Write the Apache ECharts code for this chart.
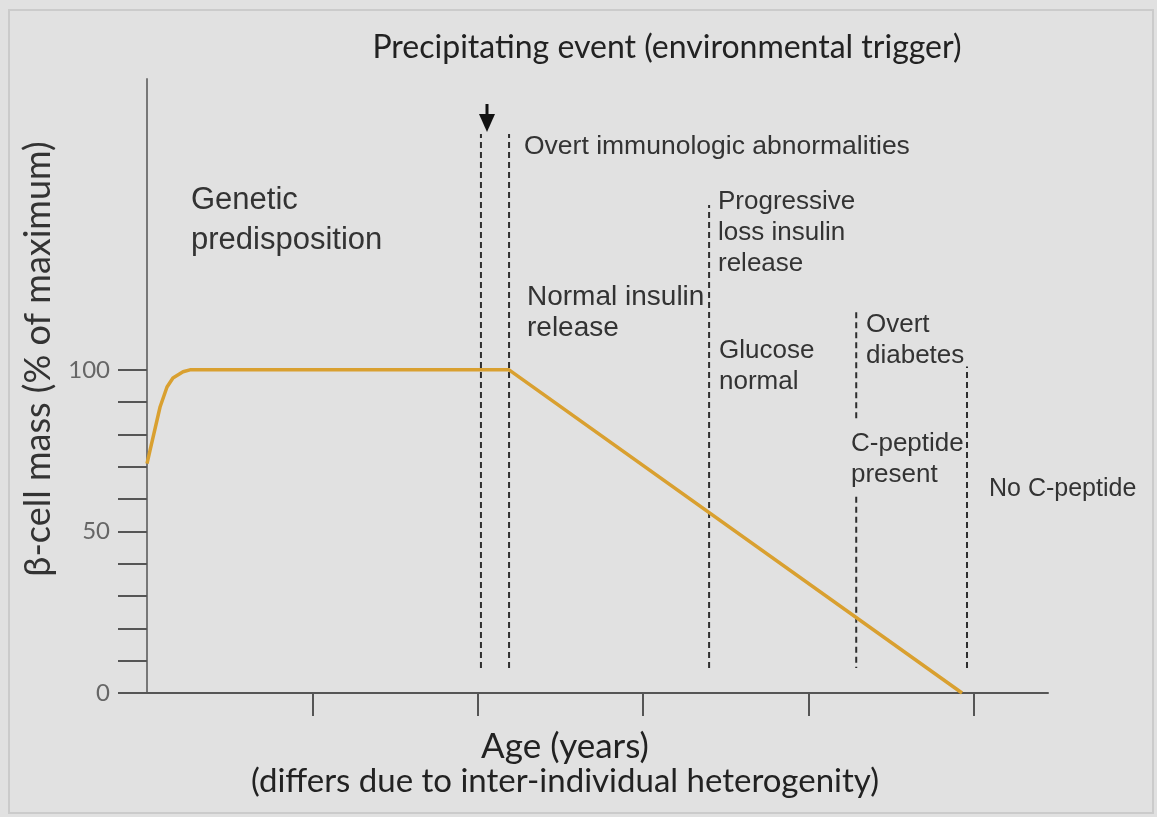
<!DOCTYPE html>
<html>
<head>
<meta charset="utf-8">
<script src="https://cdn.jsdelivr.net/npm/echarts@6/dist/echarts.min.js"></script>
<style>
  html, body { margin: 0; padding: 0; background: #e1e1e1; }
  #chart { width: 1157px; height: 817px; }
</style>
</head>
<body>
<div id="chart"></div>
<script>
// beta-cell mass curve (x = age in tick units, y = % of maximum)
const curveX = [0, 0.018, 0.079, 0.121, 0.157, 0.218, 0.26, 2.19, 4.93];
const curveY = [71, 75, 88.5, 94.7, 97.5, 99.4, 100, 100, 0];

// dashed stage boundaries: [x, yFrom, yTo]
const stageLines = [
  [2.02, 7.7, 173],
  [2.19, 7.7, 173],
  [3.40, 7.7, 151],
  [4.29, 60.7, 7.7],
  [4.29, 85, 118],
  [4.96, 7.7, 101]
];

const yTicks = [0, 10, 20, 30, 40, 50, 60, 70, 80, 90, 100];
const yLabels = [0, 50, 100];
const xTicks = [1, 2, 3, 4, 5];

const sans = 'Liberation Sans';
const cal = 'Lato';

const chart = echarts.init(document.getElementById('chart'));

const series = [
  {
    type: 'line',
    data: curveX.map((x, i) => [x, curveY[i]]),
    showSymbol: false,
    lineStyle: { color: '#d9a030', width: 3.5 },
    z: 5
  }
];
stageLines.forEach(s => {
  series.push({
    type: 'line',
    data: [[s[0], s[1]], [s[0], s[2]]],
    showSymbol: false,
    lineStyle: { color: '#2e2e2e', width: 2, type: [6, 4] },
    z: 3
  });
});

// annotation text, y = vertical centre of the whole block
function label(text, x, y, size, opts) {
  return {
    type: 'text',
    x: x, y: y,
    style: Object.assign({
      text: text,
      fontSize: size,
      fontFamily: sans,
      fill: '#333',
      lineHeight: 31,
      verticalAlign: 'middle'
    }, opts || {})
  };
}

chart.setOption({
  backgroundColor: '#e1e1e1',
  animation: false,
  grid: { left: 147, top: 79, width: 901, height: 614 },
  xAxis: {
    type: 'value',
    min: 0, max: 5.45,
    axisLine: { lineStyle: { color: '#555', width: 2 } },
    axisTick: { show: true, customValues: xTicks, length: 23, lineStyle: { color: '#555', width: 2 } },
    axisLabel: { show: false },
    splitLine: { show: false }
  },
  yAxis: {
    type: 'value',
    min: 0, max: 190,
    axisLine: { show: true, lineStyle: { color: '#777', width: 2 } },
    axisTick: { show: true, inside: false, customValues: yTicks, length: 29, lineStyle: { color: '#555', width: 2 } },
    axisLabel: { customValues: yLabels, margin: 37, color: '#666', fontSize: 24, fontFamily: cal },
    splitLine: { show: false }
  },
  series: series,
  graphic: [
    { type: 'rect', shape: { x: 9, y: 10, width: 1144, height: 803 }, style: { fill: 'none', stroke: '#cbcbcb', lineWidth: 2 }, silent: true },
    label('Precipitating event (environmental trigger)', 667, 48, 32, { fontFamily: cal, fill: '#222', align: 'center' }),
    { type: 'line', shape: { x1: 487, y1: 104, x2: 487, y2: 118 }, style: { stroke: '#111', lineWidth: 3 } },
    { type: 'polygon', shape: { points: [[479, 114], [495, 114], [487, 132]] }, style: { fill: '#111' } },
    label('Overt immunologic abnormalities', 524, 147, 26.5),
    label('Genetic\npredisposition', 191, 220, 31, { lineHeight: 40 }),
    label('Normal insulin\nrelease', 527, 313, 28),
    label('Progressive\nloss insulin\nrelease', 718, 233, 26),
    label('Glucose\nnormal', 719, 366, 26),
    label('Overt\ndiabetes', 866, 340, 26),
    label('C-peptide\npresent', 851, 459, 26),
    label('No C-peptide', 989, 489, 25),
    label('Age (years)', 565, 747, 35, { fontFamily: cal, fill: '#222', align: 'center' }),
    label('(differs due to inter-individual heterogenity)', 565, 781, 33, { fontFamily: cal, fill: '#222', align: 'center' }),
    { type: 'text', x: 38, y: 359, rotation: Math.PI / 2,
      style: { text: '\u03b2-cell mass (% of maximum)', fontSize: 36, fontFamily: cal, fill: '#333', align: 'center', verticalAlign: 'middle' } }
  ]
});
</script>
</body>
</html>
